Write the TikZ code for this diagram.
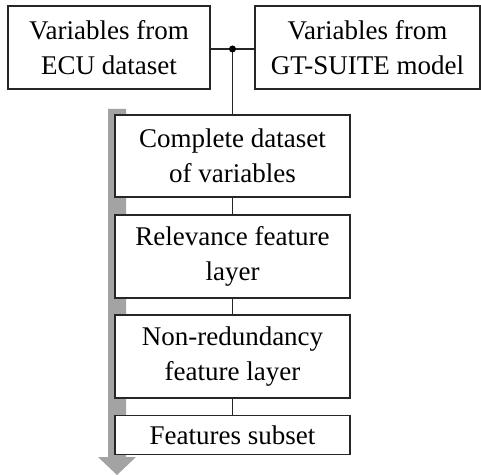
\documentclass[tikz,border=0pt]{standalone}
\usepackage{fontspec}
\setmainfont{Liberation Serif}
\begin{document}
\begin{tikzpicture}[x=0.5pt,y=-0.5pt,
  box/.style={draw=black!85,line width=0.6pt,fill=white,inner sep=0pt,align=center,
    font=\fontsize{13.5pt}{17.5pt}\selectfont},
  conn/.style={draw=black!85,line width=0.6pt}]
\useasboundingbox (0,0) rectangle (481,475);
% gray flow arrow
\fill[black!36] (108,109) -- (126,109) -- (126,457) -- (136,457) -- (117,475) -- (98,457) -- (108,457) -- cycle;
% boxes
\node[box,minimum width=101pt,minimum height=41.5pt] (ecu) at (109,47.5) {Variables from\\ECU dataset};
\node[box,minimum width=112.5pt,minimum height=41.5pt] (gt) at (367.5,47.5) {Variables from\\GT-SUITE model};
\node[box,minimum width=117.5pt,minimum height=41pt] (cds) at (232.5,156) {Complete dataset\\of variables};
\node[box,minimum width=117.5pt,minimum height=41.5pt] (rel) at (232.5,256.5) {Relevance feature\\layer};
\node[box,minimum width=117.5pt,minimum height=41.5pt] (nred) at (232.5,356.5) {Non-redundancy\\feature layer};
\node[box,minimum width=117.5pt,minimum height=19.5pt] (fs) at (232.5,435) {Features subset};
% connectors
\coordinate (j) at (232.5,49);
\draw[conn] (ecu.east|-j) -- (gt.west|-j);
\draw[conn] (j) -- (cds.north);
\draw[conn] (cds.south) -- (rel.north);
\draw[conn] (rel.south) -- (nred.north);
\draw[conn] (nred.south) -- (fs.north);
\fill[black] (j) circle (3.5);
\end{tikzpicture}
\end{document}
